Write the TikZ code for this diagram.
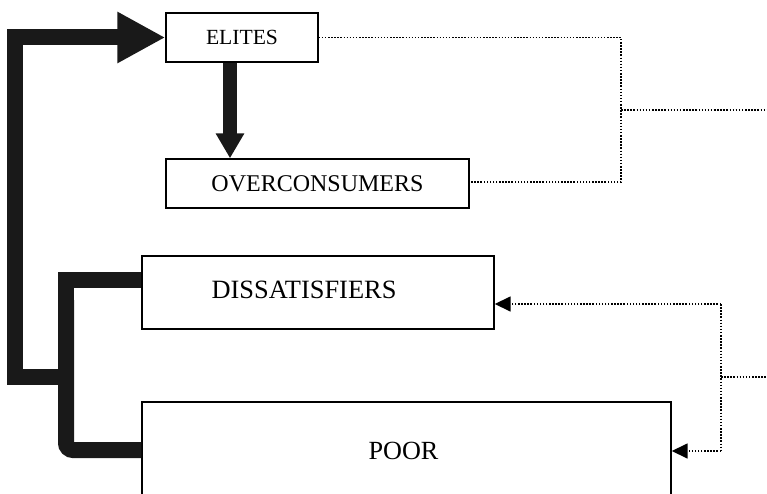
\documentclass[tikz,border=0pt]{standalone}
\usepackage{fontspec}
\setmainfont{Liberation Serif}
\usetikzlibrary{arrows.meta}
\begin{document}
\begin{tikzpicture}[x=1pt,y=-1pt,
  box/.style={draw=black,line width=1.4pt,rectangle,inner sep=0pt,anchor=center},
  thickline/.style={draw=black!90,line width=16pt,line join=miter},
  dotline/.style={draw=black,line width=1.6pt,dash pattern=on 1.5pt off 1.6pt},
  dothead/.style={-{Triangle[length=16pt,width=15pt]}}
]
\useasboundingbox (0,0) rectangle (767,494);
\clip (0,0) rectangle (767,494);
\node[box,minimum width=152pt,minimum height=49pt,font=\fontsize{21.6}{24}\selectfont] (e) at (242,37.5) {ELITES};
\node[box,minimum width=303pt,minimum height=49pt,font=\fontsize{24}{26}\selectfont] (o) at (317.5,183.5) {\raisebox{-3pt}{OVERCONSUMERS}};
\node[box,minimum width=352pt,minimum height=73pt,font=\fontsize{26.4}{28}\selectfont] (d) at (318,292.5) {\raisebox{5pt}{DISSATISFIERS}\hspace*{28pt}};
\node[box,minimum width=529pt,minimum height=98pt,font=\fontsize{26.2}{28}\selectfont] (p) at (406.5,451) {POOR\hspace*{6pt}};
% thick arrows
\draw[thickline,-{Triangle[length=48pt,width=48pt]}] (66,377) -- (15,377) -- (15,37.5) -- (e.west);
\draw[thickline] ([yshift=12.5pt]d.west) -- (66,280) -- (66,320);
\draw[thickline,rounded corners=7pt] (66,300) -- (66,450) -- (p.west |- 0,450);
\draw[draw=black!90,line width=14pt,-{Triangle[length=25pt,width=27pt]}] ([xshift=-12pt]e.south) -- ([xshift=-12pt]e.south |- o.north);
% dotted connectors top
\coordinate (tr) at (621,110);
\coordinate (tout) at (767,110);
\draw[dotline] (e.east) -- (621,37.5) -- (621,182) -- (o.east |- 0,182);
\draw[dotline] (tr) -- (tout);
% dotted connectors bottom
\coordinate (br) at (721,377);
\coordinate (bout) at (767,377);
\draw[dotline] (br) -- (bout);
\draw[dotline] (721,304) -- (721,451);
\draw[dotline,dothead] (721,304) -- (d.east |- 0,304);
\draw[dotline,dothead] (721,451) -- (p.east |- 0,451);
\end{tikzpicture}
\end{document}
